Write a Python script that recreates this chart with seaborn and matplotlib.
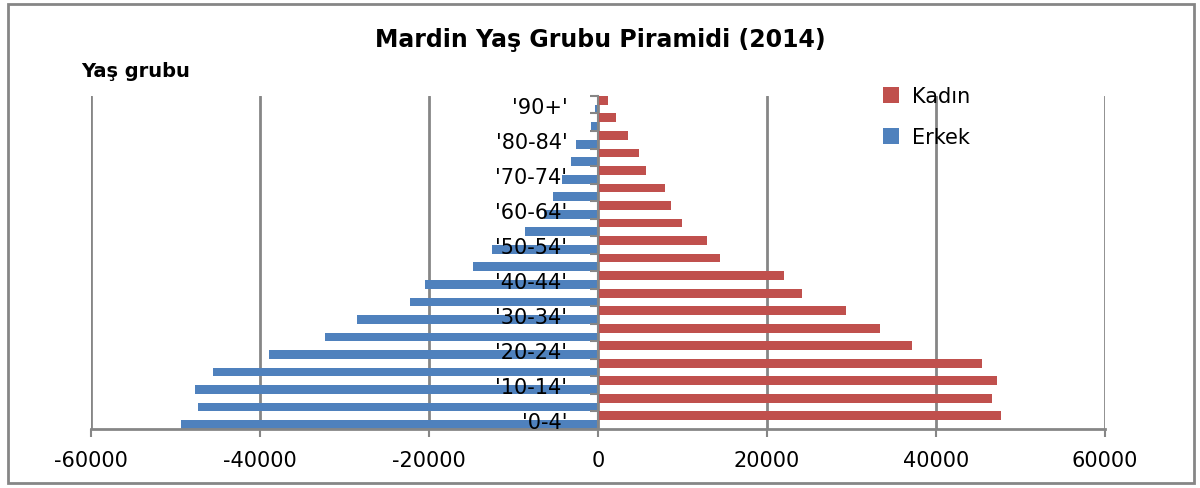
import numpy as np
import pandas as pd
import matplotlib.pyplot as plt
import seaborn as sns
from matplotlib.patches import Rectangle

# Mardin 2014 population by age group
yas_gruplari = ["0-4", "5-9", "10-14", "15-19", "20-24", "25-29", "30-34",
                "35-39", "40-44", "45-49", "50-54", "55-59", "60-64",
                "65-69", "70-74", "75-79", "80-84", "85-89", "90+"]
erkek = [49400, 47300, 47700, 45600, 38900, 32300, 28500, 22300, 20500,
         14800, 12500, 8600, 6400, 5300, 4300, 3200, 2600, 800, 300]
kadin = [47700, 46600, 47200, 45400, 37200, 33400, 29400, 24100, 22000,
         14400, 12900, 9900, 8600, 7900, 5700, 4800, 3500, 2100, 1200]
x_ticks = [-60000, -40000, -20000, 0, 20000, 40000, 60000]

df = pd.DataFrame({
    "Yaş": yas_gruplari * 2,
    "Nüfus": [-v for v in erkek] + kadin,
    "Cinsiyet": ["Erkek"] * len(erkek) + ["Kadın"] * len(kadin),
})

sns.set_style("white")
plt.rcParams["axes.unicode_minus"] = False
plt.rcParams["text.color"] = "black"
plt.rcParams["xtick.color"] = "black"
plt.rcParams["ytick.color"] = "black"
gray = "#868686"

fig = plt.figure(figsize=(12, 4.89), dpi=100)
ax = fig.add_axes([0.0758, 0.1207, 0.845, 0.681])

sns.barplot(data=df, x="Nüfus", y="Yaş", hue="Cinsiyet",
            order=yas_gruplari[::-1], hue_order=["Kadın", "Erkek"],
            palette={"Kadın": "#C0504D", "Erkek": "#4F81BD"},
            orient="h", dodge=True, width=1.0, gap=0, errorbar=None,
            saturation=1, linewidth=0, ax=ax)

ax.set_xlim(-60000, 60000)
ax.set_ylim(18.5, -0.5)
ax.set_xlabel("")
ax.set_ylabel("")

ax.set_xticks(x_ticks)
ax.set_xticklabels([str(v) for v in x_ticks])
ax.tick_params(axis="x", bottom=True, length=6, width=1.5, color=gray,
               labelsize=15, pad=9)

# every other age group gets a label, placed next to the zero line
pos = [len(yas_gruplari) - 1 - k for k in range(0, len(yas_gruplari), 2)]
labs = ["'" + yas_gruplari[k] + "'" for k in range(0, len(yas_gruplari), 2)]
ax.set_yticks(pos, labs)
ax.set_yticks(np.arange(-0.5, len(yas_gruplari), 1), minor=True)
ax.tick_params(axis="y", which="major", left=True, length=0, pad=22,
               labelsize=15)
ax.tick_params(axis="y", which="minor", left=True, length=6, width=1.5,
               color=gray, direction="out")

ax.spines["left"].set_position(("data", 0))
ax.spines["left"].set_color(gray)
ax.spines["left"].set_linewidth(1.5)
ax.spines["bottom"].set_color(gray)
ax.spines["bottom"].set_linewidth(2)
ax.spines["top"].set_visible(False)
ax.spines["right"].set_visible(False)

ax.xaxis.grid(True, color=gray, linewidth=2)
ax.set_axisbelow(True)
ax.yaxis.set_zorder(3)

handles, labels = ax.get_legend_handles_labels()
ax.legend(handles, labels, loc="upper left", bbox_to_anchor=(0.72, 0.86),
          bbox_transform=fig.transFigure, frameon=False, fontsize=15,
          handlelength=0.8, handleheight=0.8, labelspacing=1.0,
          handletextpad=0.6)

fig.text(0.5, 0.918, "Mardin Yaş Grubu Piramidi (2014)", ha="center",
         va="center", fontsize=17, fontweight="bold")
fig.text(0.068, 0.853, "Yaş grubu", ha="left", va="center", fontsize=14,
         fontweight="bold")

fig.add_artist(Rectangle((0.007, 0.01), 0.988, 0.98, transform=fig.transFigure,
                         fill=False, edgecolor=gray, linewidth=2))

plt.savefig("out.png", dpi=100)
